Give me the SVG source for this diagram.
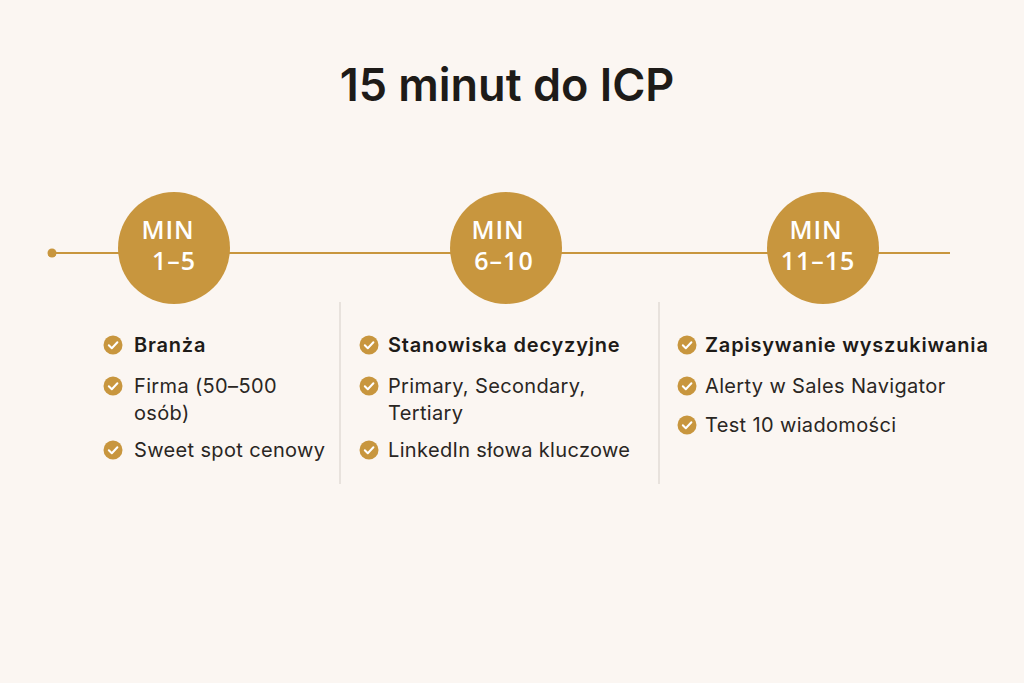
<svg xmlns="http://www.w3.org/2000/svg" width="1024" height="683" viewBox="0 0 1024 683">
<defs>
<style>
.bg{fill:#FBF6F2}
.title{font-family:Inter,"Liberation Sans",sans-serif;font-size:45px;font-weight:600;fill:#1E1B18}
.circ{fill:#C8963E}
.ctext{font-family:"Open Sans","Liberation Sans",sans-serif;font-size:25px;font-weight:600;fill:#FFFFFF;letter-spacing:1px}
.item{font-family:Inter,"Liberation Sans",sans-serif;font-size:20px;fill:#2A2623;letter-spacing:0.35px}
.bold{font-weight:600;fill:#1E1B18;letter-spacing:0.8px}
.line{stroke:#C8963E;stroke-width:2;fill:none}
.div{stroke:#DCD5CF;stroke-width:1.2}
.chk{fill:#C8963E}
.tick{fill:none;stroke:#FFFFFF;stroke-width:2;stroke-linecap:round;stroke-linejoin:round}
</style>
<g id="check">
<circle class="chk" r="9.5"/>
<path class="tick" d="M-4.2,0.3 L-1.2,3.3 L4.4,-2.8"/>
</g>
</defs>
<rect class="bg" width="1024" height="683"/>
<text class="title" x="507" y="101" text-anchor="middle">15 minut do ICP</text>
<g id="connectors">
<line class="line" x1="52" y1="253" x2="950" y2="253"/>
<circle cx="52" cy="253" r="4.5" fill="#C8963E"/>
<line class="div" x1="340" y1="302" x2="340" y2="484"/>
<line class="div" x1="659" y1="302" x2="659" y2="484"/>
</g>
<g id="step1">
<circle class="circ" cx="174" cy="248" r="56"/>
<text class="ctext" x="168" y="239" text-anchor="middle">MIN</text>
<text class="ctext" x="174" y="270" text-anchor="middle">1–5</text>
</g>
<g id="step2">
<circle class="circ" cx="506" cy="248" r="56"/>
<text class="ctext" x="498" y="239" text-anchor="middle">MIN</text>
<text class="ctext" x="504" y="270" text-anchor="middle">6–10</text>
</g>
<g id="step3">
<circle class="circ" cx="823" cy="248" r="56"/>
<text class="ctext" x="816" y="239" text-anchor="middle">MIN</text>
<text class="ctext" x="818" y="270" text-anchor="middle">11–15</text>
</g>
<g id="list1">
<use href="#check" x="113" y="345"/>
<text class="item bold" x="134" y="352">Branża</text>
<use href="#check" x="113" y="386"/>
<text class="item" x="134" y="393">Firma (50–500</text>
<text class="item" x="134" y="420">osób)</text>
<use href="#check" x="113" y="450"/>
<text class="item" x="134" y="457">Sweet spot cenowy</text>
</g>
<g id="list2">
<use href="#check" x="369" y="345"/>
<text class="item bold" x="388" y="352">Stanowiska decyzyjne</text>
<use href="#check" x="369" y="386"/>
<text class="item" x="388" y="393">Primary, Secondary,</text>
<text class="item" x="388" y="420">Tertiary</text>
<use href="#check" x="369" y="450"/>
<text class="item" x="388" y="457">LinkedIn słowa kluczowe</text>
</g>
<g id="list3">
<use href="#check" x="687" y="345"/>
<text class="item bold" x="705" y="352">Zapisywanie wyszukiwania</text>
<use href="#check" x="687" y="386"/>
<text class="item" x="705" y="393">Alerty w Sales Navigator</text>
<use href="#check" x="687" y="425"/>
<text class="item" x="705" y="432">Test 10 wiadomości</text>
</g>
</svg>
